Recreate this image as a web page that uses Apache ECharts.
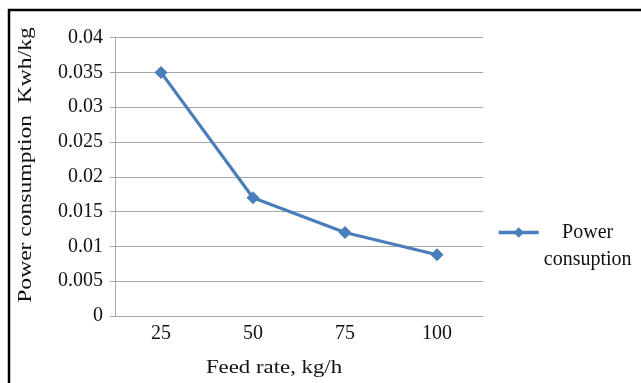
<!DOCTYPE html>
<html>
<head>
<meta charset="utf-8">
<script src="https://cdn.jsdelivr.net/npm/echarts@6/dist/echarts.min.js"></script>
<style>html,body{margin:0;padding:0;background:#fff}#c{width:641px;height:383px}</style>
</head>
<body>
<div id="c"></div>
<script>
var categories = ['25', '50', '75', '100'];
var powerValues = [0.035, 0.017, 0.012, 0.0088];
var seriesName = 'Power consuption';
var xTitle = 'Feed rate, kg/h';
var yTitle = 'Power consumption  Kwh/kg';

var FONT = '"Liberation Serif", "Times New Roman", serif';
var BLUE = '#4a7ebb';
var chart = echarts.init(document.getElementById('c'));
chart.setOption({
  animation: false,
  backgroundColor: '#ffffff',
  grid: { left: 115, right: 158, top: 37.6, bottom: 67 },
  graphic: [
    { type: 'rect', shape: { x: 9, y: 10, width: 700, height: 400 },
      style: { fill: 'none', stroke: '#000', lineWidth: 2.5 }, z: 100 },
    { type: 'text', x: 274, y: 368, scaleX: 1.2,
      style: { text: xTitle, font: '19px ' + FONT, fill: '#111', textAlign: 'center', textVerticalAlign: 'middle' } },
    { type: 'text', x: 26, y: 165, rotation: Math.PI / 2, scaleX: 1.24,
      style: { text: yTitle, font: '19px ' + FONT, fill: '#111', textAlign: 'center', textVerticalAlign: 'middle' } }
  ],
  legend: {
    data: [seriesName],
    left: 492, top: 187,
    itemWidth: 40, itemHeight: 13, itemGap: 3,
    lineStyle: { width: 3.5 },
    formatter: function () { return '{e| }\n{a|Power}\n{a|consuption}'; },
    textStyle: {
      fontFamily: FONT, fontSize: 20, color: '#111', lineHeight: 27,
      rich: {
        e: { fontFamily: FONT, fontSize: 20, lineHeight: 27 },
        a: { fontFamily: FONT, fontSize: 20, lineHeight: 27, align: 'center', color: '#111' }
      }
    }
  },
  xAxis: {
    type: 'category',
    data: categories,
    boundaryGap: true,
    axisLine: { lineStyle: { color: '#a6a6a6', width: 1 } },
    axisTick: { show: false },
    axisLabel: { fontFamily: FONT, fontSize: 20, color: '#111', margin: 8 }
  },
  yAxis: {
    type: 'value',
    min: 0, max: 0.04, interval: 0.005,
    axisLine: { show: true, lineStyle: { color: '#a6a6a6', width: 1 } },
    axisTick: { show: true, length: 5, lineStyle: { color: '#a6a6a6' } },
    axisLabel: { fontFamily: FONT, fontSize: 20, color: '#111', margin: 12 },
    splitLine: { lineStyle: { color: '#a6a6a6', width: 1 } }
  },
  series: [{
    name: seriesName,
    type: 'line',
    data: powerValues,
    symbol: 'diamond',
    symbolSize: 13,
    lineStyle: { color: BLUE, width: 3.2 },
    itemStyle: { color: BLUE }
  }]
});
</script>
</body>
</html>
